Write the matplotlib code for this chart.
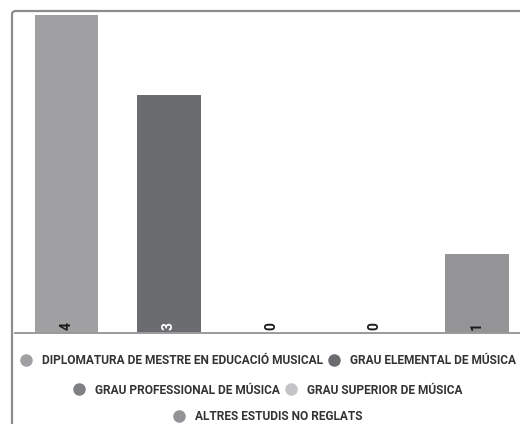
import matplotlib
matplotlib.use("Agg")
import matplotlib.pyplot as plt
from matplotlib.lines import Line2D
from matplotlib.patches import FancyBboxPatch

categories = [
    "DIPLOMATURA DE MESTRE EN EDUCACIÓ MUSICAL",
    "GRAU ELEMENTAL DE MÚSICA",
    "GRAU PROFESSIONAL DE MÚSICA",
    "GRAU SUPERIOR DE MÚSICA",
    "ALTRES ESTUDIS NO REGLATS",
]
values = [4, 3, 0, 0, 1]
colors = ["#a0a0a3", "#6b6c6f", "#7f8083", "#c4c4c6", "#949497"]
label_colors = ["#1a1a1a", "#ffffff", "#1a1a1a", "#1a1a1a", "#1a1a1a"]
legend_rows = [[0, 1], [2, 3], [4]]

plt.rcParams["font.family"] = ["Roboto", "DejaVu Sans"]

W, H = 520, 424
fig = plt.figure(figsize=(W / 100, H / 100), dpi=100)
fig.patch.set_facecolor("white")

# outer card border (runs off the right and bottom edges)
card = FancyBboxPatch((12 / W, -0.05), 1.1, 1 - 11 / H + 0.05,
                      boxstyle="round,pad=0,rounding_size=0.008",
                      transform=fig.transFigure, fill=False,
                      edgecolor="#8c8c8c", linewidth=1.6)
fig.patches.append(card)

ax = fig.add_axes([15 / W, 1 - 333 / H, (W - 15) / W, (333 - 15) / H])
x = list(range(len(values)))
ax.bar(x, values, width=0.62, color=colors, zorder=2)
ax.set_xlim(-0.5, 4.42)
ax.set_ylim(0, 4)

for xi, v, c in zip(x, values, label_colors):
    ax.annotate(str(v), (xi, 0), xytext=(0, 2), textcoords="offset points",
                ha="center", va="bottom", rotation=90, fontsize=10,
                fontweight="bold", color=c, zorder=3)

for s in ["top", "right", "left"]:
    ax.spines[s].set_visible(False)
ax.spines["bottom"].set_color("#9a9a9a")
ax.spines["bottom"].set_linewidth(1.4)
ax.set_xticks([])
ax.set_yticks([])
ax.patch.set_alpha(0)

row_y = [361, 390, 417]
cx = 267 / W
for row, yy in zip(legend_rows, row_y):
    handles = [Line2D([], [], marker="o", linestyle="none", markersize=8,
                      markerfacecolor=colors[i], markeredgecolor=colors[i])
               for i in row]
    labels = [categories[i] for i in row]
    leg = fig.legend(handles, labels, loc="center", bbox_to_anchor=(cx, 1 - yy / H),
                     ncol=len(row), frameon=False, handletextpad=0.7,
                     columnspacing=0.27, handlelength=1.3,
                     prop={"family": "Roboto", "weight": "bold", "size": 8.6})
    for t in leg.get_texts():
        t.set_color("#333333")

fig.savefig("out.png", dpi=100, facecolor="white")
